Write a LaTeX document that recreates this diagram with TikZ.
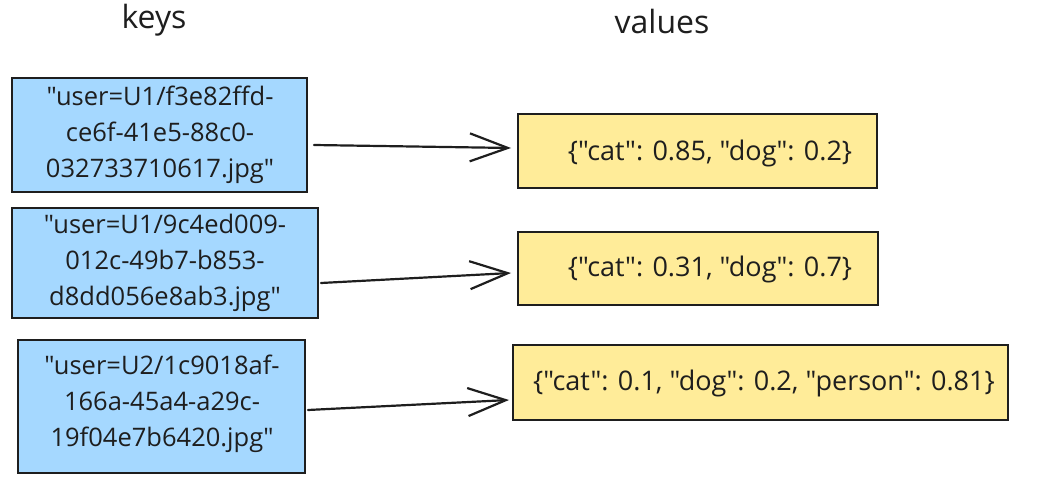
\documentclass[tikz,border=0pt]{standalone}
\usepackage{fontspec}
% plain family without TeX quote mapping, so " stays straight
\newfontfamily\sketchfont{Open Sans}
\usetikzlibrary{arrows.meta}
\definecolor{inkc}{HTML}{1E1E1E}
\definecolor{keyfill}{HTML}{A5D8FF}
\definecolor{valfill}{HTML}{FFEC99}
\tikzset{
  keybox/.style={draw=inkc, fill=keyfill, line width=1.6pt, inner sep=0pt},
  valbox/.style={draw=inkc, fill=valfill, line width=1.6pt, inner sep=0pt},
  keytext/.style={font=\sketchfont\fontsize{25.5}{36}\selectfont, align=center, text=inkc},
  valtext/.style={font=\sketchfont\fontsize{27}{32}\selectfont, align=center, text=inkc},
  heading/.style={font=\sketchfont\fontsize{32}{36}\selectfont, text=inkc},
  link/.style={draw=inkc, line width=2.2pt, line cap=round, line join=round,
    -{Straight Barb[length=38pt,width=28pt,line width=2.2pt]}}
}
\begin{document}
\begin{tikzpicture}[x=1pt,y=-1pt]
\useasboundingbox (0,0) rectangle (1043,486);
% column headings
\node[heading] (hkeys) at (154,20) {keys};
\node[heading] (hvals) at (662,22) {values};
% key boxes
\draw[keybox] (12,78) rectangle (307,192);
\node[keytext] (k1) at (160,135) {"user=U1/f3e82ffd-\\ce6f-41e5-88c0-\\032733710617.jpg"};
\draw[keybox] (12,208) rectangle (318,318);
\node[keytext] (k2) at (165,263) {"user=U1/9c4ed009-\\012c-49b7-b853-\\d8dd056e8ab3.jpg"};
\draw[keybox] (18,340) rectangle (305,473);
\node[keytext] (k3) at (162,404) {"user=U2/1c9018af-\\166a-45a4-a29c-\\19f04e7b6420.jpg"};
% value boxes
\draw[valbox] (518,114) rectangle (877,188);
\node[valtext] (v1) at (710,153) {\{"cat": 0.85, "dog": 0.2\}};
\draw[valbox] (518,232) rectangle (878,305);
\node[valtext] (v2) at (710,269) {\{"cat": 0.31, "dog": 0.7\}};
\draw[valbox] (513,345) rectangle (1008,420);
\node[valtext] (v3) at (764,383) {\{"cat": 0.1, "dog": 0.2, "person": 0.81\}};
% connectors
\coordinate (a1s) at (314,145); \coordinate (a1e) at (511,148);
\coordinate (a2s) at (321,283); \coordinate (a2e) at (511,273);
\coordinate (a3s) at (308,410); \coordinate (a3e) at (509,400);
\draw[link] (a1s) -- (a1e);
\draw[link] (a2s) -- (a2e);
\draw[link] (a3s) -- (a3e);
\end{tikzpicture}
\end{document}
